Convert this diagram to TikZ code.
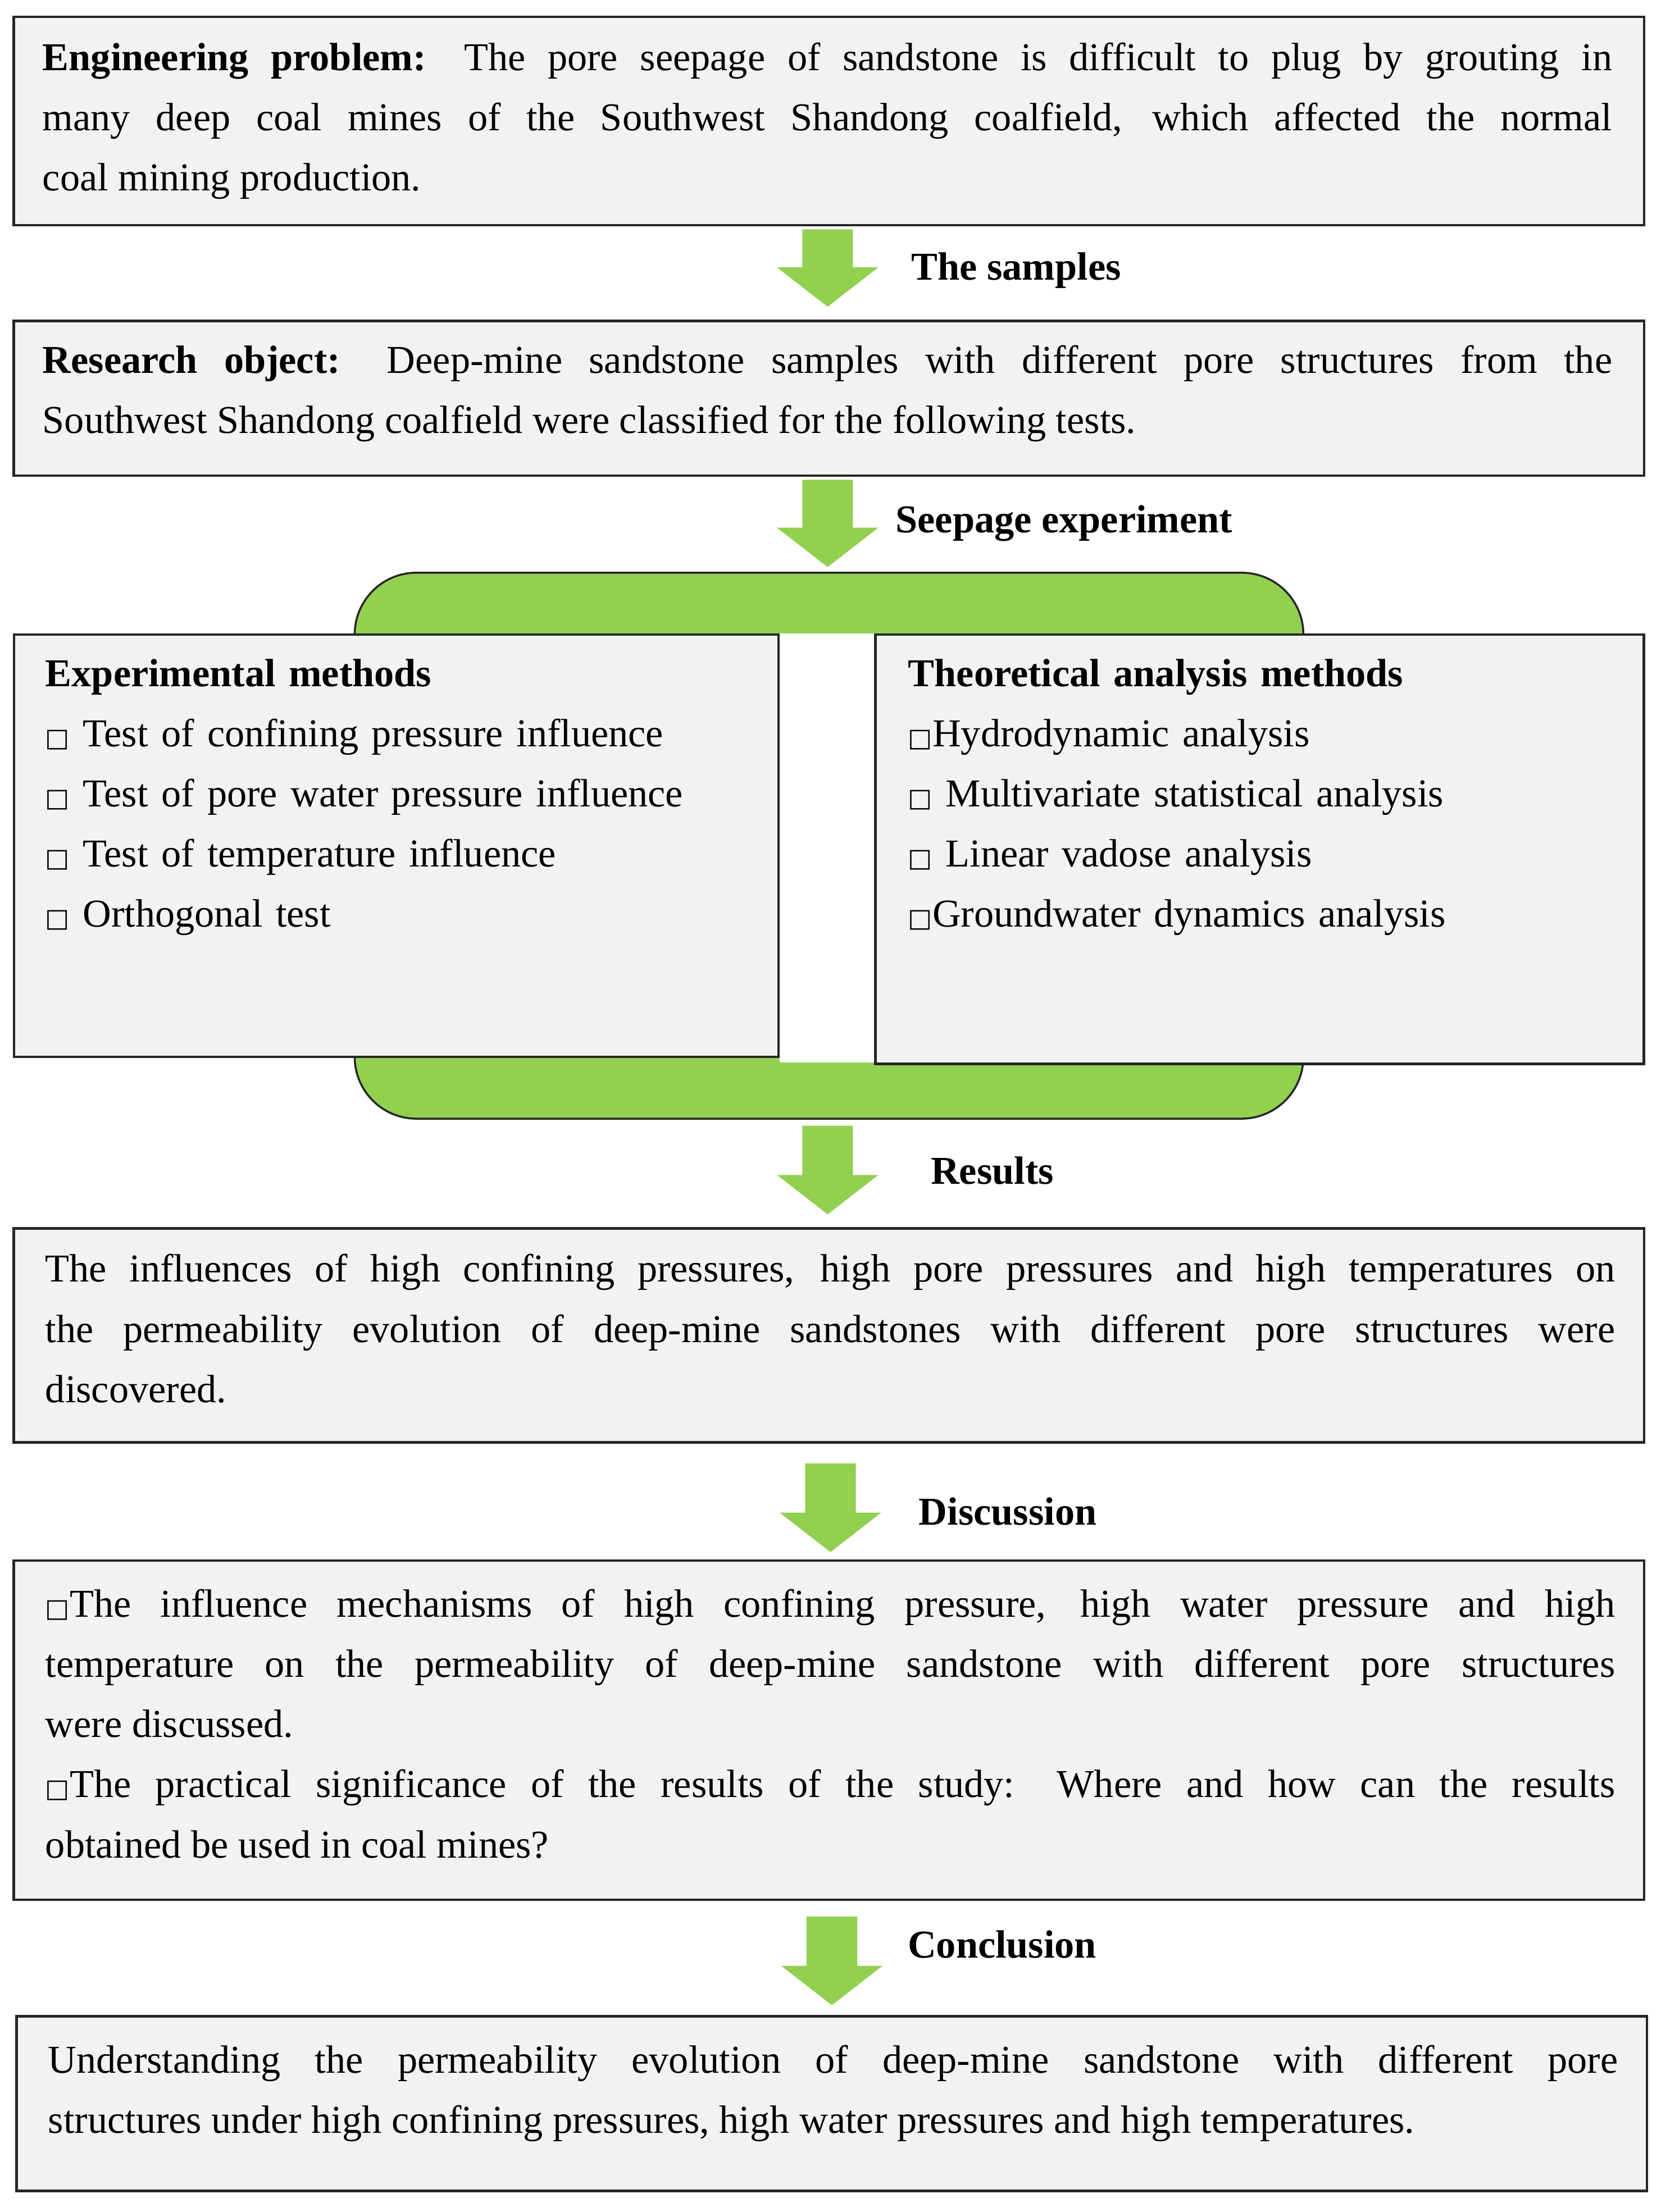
\documentclass[tikz,border=0pt]{standalone}
\usepackage{fontspec}
\setmainfont{Liberation Serif}
\newfontfamily\dv{DejaVu Sans}
\newcommand{\sq}{{\fontsize{13}{13}\dv □}}
\definecolor{gr}{HTML}{92D050}
\definecolor{bx}{HTML}{F2F2F2}
\definecolor{ln}{HTML}{262626}
\begin{document}
\begin{tikzpicture}[x=0.02506cm,y=-0.02506cm,
  box/.style={draw=ln,line width=1.3pt,fill=bx,inner sep=0},
  txt/.style={anchor=north west,inner sep=0,text width=27.94cm,align=justify,font=\fontsize{20}{30.5}\selectfont},
  ltx/.style={anchor=north west,inner sep=0,text width=13cm,align=left,font=\fontsize{20}{30.5}\selectfont},
  lab/.style={font=\fontsize{20}{24}\selectfont\bfseries,inner sep=0},
  ga/.style={fill=gr,draw=none}]
\useasboundingbox (0,0) rectangle (1180,1572);
\fill[white] (0,0) rectangle (1180,1572);
\newcommand{\garrow}[3]{\fill[gr] (#1-18,#2) -- (#1+18,#2) -- (#1+18,{#3-28}) -- (#1+36,{#3-28}) -- (#1,#3) -- (#1-36,{#3-28}) -- (#1-18,{#3-28}) -- cycle;}
% box 1
\node[box,minimum width=29.02cm,minimum height=3.71cm] (b1) at (589,86) {};
\node[txt] (t1) at (30,30) {\textbf{Engineering problem:} The pore seepage of sandstone is difficult to plug by grouting in\linebreak many deep coal mines of the Southwest Shandong coalfield, which affected the normal\linebreak coal mining production.};
\coordinate (a1s) at (588,163); \coordinate (a1e) at (588,218);
\garrow{588}{163}{218}
\node[lab] (l1) at (722,192) {The samples};
% box 2
\node[box,minimum width=29.02cm,minimum height=2.757cm] (b2) at (589,283) {};
\node[txt] (t2) at (30,245) {\textbf{Research object:} Deep-mine sandstone samples with different pore structures from the\linebreak Southwest Shandong coalfield were classified for the following tests.};
\garrow{588}{341}{403}
\node[lab] (l2) at (756,372) {Seepage experiment};
% green frame
\draw[ln,line width=1pt,fill=gr,rounded corners=1.1cm] (252,407) rectangle (926,795);
\fill[white] (554,450) rectangle (622,755);
\node[box,minimum width=13.61cm,minimum height=7.52cm] (bl) at (281.5,601) {};
\node[box,minimum width=13.68cm,minimum height=7.64cm] (br) at (895,603.5) {};
\node[ltx] (tl) at (32,468) {\textbf{Experimental methods}\\ \sq{} Test of confining pressure influence\\ \sq{} Test of pore water pressure influence\\ \sq{} Test of temperature influence\\ \sq{} Orthogonal test};
\node[ltx] (tr) at (645,468) {\textbf{Theoretical analysis methods}\\ \sq{}Hydrodynamic analysis\\ \sq{} Multivariate statistical analysis\\ \sq{} Linear vadose analysis\\ \sq{}Groundwater dynamics analysis};
\garrow{588}{800}{863}
\node[lab] (l3) at (705,832) {Results};
% box 4
\node[box,minimum width=29.02cm,minimum height=3.81cm] (b4) at (589,949) {};
\node[txt] (t4) at (32,891) {The influences of high confining pressures, high pore pressures and high temperatures on\linebreak the permeability evolution of deep-mine sandstones with different pore structures were\linebreak discovered.};
\garrow{590}{1040}{1103}
\node[lab] (l4) at (716,1074) {Discussion};
% box 5
\node[box,minimum width=29.02cm,minimum height=6.04cm] (b5) at (589,1229.5) {};
\node[txt] (t5) at (32,1129) {\sq{}The influence mechanisms of high confining pressure, high water pressure and high\linebreak temperature on the permeability of deep-mine sandstone with different pore structures\linebreak were discussed.\\ \sq{}The practical significance of the results of the study: Where and how can the results\linebreak obtained be used in coal mines?};
\garrow{591}{1362}{1425}
\node[lab] (l5) at (712,1382) {Conclusion};
% box 6
\node[box,minimum width=29.02cm,minimum height=3.11cm] (b6) at (591,1495) {};
\node[txt] (t6) at (34,1453) {Understanding the permeability evolution of deep-mine sandstone with different pore\linebreak structures under high confining pressures, high water pressures and high temperatures.};
\end{tikzpicture}
\end{document}
